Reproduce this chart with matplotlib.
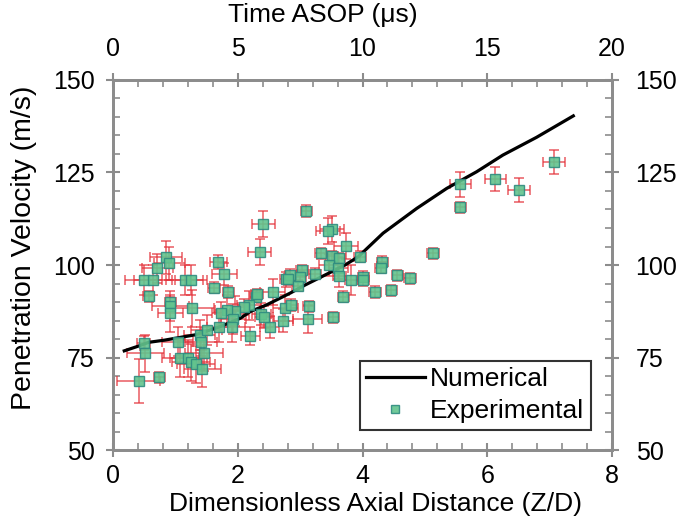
import matplotlib
matplotlib.use("Agg")
import matplotlib.pyplot as plt
from matplotlib.ticker import MultipleLocator

plt.rcParams['font.family'] = ['Liberation Sans', 'DejaVu Sans']

# Numerical curve
num_z = [0.18, 0.41, 0.57, 0.83, 1.10, 1.31, 1.55, 1.71, 2.04, 2.20, 2.46, 2.84,
         3.08, 3.40, 3.72, 3.93, 4.33, 4.87, 5.35, 5.83, 6.25, 6.79, 7.38]
num_v = [76.8, 78.1, 79.1, 79.7, 80.5, 81.1, 82.4, 83.3, 85.6, 87.4, 89.2, 92.4,
         94.6, 97.3, 100.0, 102.2, 108.6, 115.3, 120.7, 125.2, 129.7, 134.5, 140.3]

# Experimental points
exp_z = [0.85, 0.90, 0.71, 0.49, 0.64, 1.15, 1.25, 0.57, 0.92, 0.92, 0.92, 1.27,
         0.49, 0.52, 0.41, 0.74, 1.04, 1.08, 1.21, 1.25, 1.33, 1.43, 1.46, 1.39,
         1.41, 1.50,
         1.69, 1.78, 1.62, 1.85, 2.56, 2.29, 2.31, 2.78, 2.76, 2.73, 2.51, 2.20,
         2.38, 2.42, 2.18, 2.10, 1.96, 1.83, 1.73, 1.93, 1.91, 1.70, 2.41, 2.35,
         3.10, 3.51, 3.45, 3.73, 3.33, 3.51, 3.63, 3.96, 3.46, 3.61, 3.63, 3.82,
         4.01, 4.01, 3.24, 3.03, 3.00, 2.84, 2.80, 2.96, 3.69, 2.86, 3.14, 3.53,
         3.12,
         5.13, 4.32, 4.29, 4.56, 4.76, 4.20, 4.46, 5.57, 5.57, 6.13, 6.51, 7.07]
exp_v = [102.1, 100.5, 99.1, 95.9, 95.9, 95.9, 95.9, 91.5, 89.9, 89.0, 86.9, 88.3,
         78.9, 76.2, 68.7, 69.6, 79.3, 74.8, 74.8, 73.7, 73.2, 71.9, 76.3, 81.1,
         79.3, 82.4,
         100.8, 97.6, 93.8, 92.7, 92.7, 91.4, 92.1, 96.1, 88.3, 85.0, 83.2, 80.8,
         86.7, 85.9, 89.1, 88.7, 87.6, 87.8, 86.9, 85.4, 83.2, 83.3, 111.1, 103.5,
         114.6, 109.7, 109.2, 105.1, 103.2, 102.4, 101.8, 102.2, 100.1, 99.1, 97.0, 95.9,
         96.8, 95.9, 97.6, 98.6, 96.8, 97.3, 96.2, 94.4, 91.4, 89.2, 88.8, 85.9,
         85.3,
         103.2, 100.9, 99.3, 97.2, 96.4, 92.7, 93.2, 121.8, 115.6, 123.2, 120.2, 127.8]
exp_xerr = [0.25, 0.25, 0.25, 0.30, 0.30, 0.30, 0.25, 0.09, 0.09, 0.30, 0.20, 0.35,
            0.10, 0.30, 0.35, 0.09, 0.25, 0.30, 0.30, 0.30, 0.30, 0.30, 0.30, 0.25,
            0.25, 0.25,
            0.13, 0.20, 0.09, 0.09, 0.20, 0.09, 0.09, 0.10, 0.20, 0.15, 0.15, 0.15,
            0.15, 0.15, 0.20, 0.10, 0.20, 0.20, 0.15, 0.20, 0.20, 0.20, 0.18, 0.18,
            0.09, 0.19, 0.19, 0.19, 0.09, 0.09, 0.09, 0.09, 0.15, 0.15, 0.10, 0.10,
            0.09, 0.09, 0.09, 0.09, 0.09, 0.09, 0.09, 0.09, 0.09, 0.09, 0.09, 0.09,
            0.23,
            0.09, 0.09, 0.09, 0.09, 0.09, 0.09, 0.09, 0.17, 0.09, 0.17, 0.17, 0.17]
exp_yerr = [4.5, 4.5, 4.0, 4.0, 4.0, 4.0, 4.0, 1.5, 1.5, 4.0, 5.0, 5.0,
            2.0, 5.0, 6.0, 1.5, 4.0, 5.0, 5.0, 5.0, 5.0, 5.0, 5.0, 4.0,
            4.0, 4.0,
            2.0, 3.0, 1.5, 1.5, 3.5, 1.5, 1.5, 2.0, 3.5, 3.0, 3.0, 2.5,
            3.0, 3.0, 4.0, 2.0, 4.0, 4.0, 3.0, 4.0, 4.0, 4.0, 3.6, 3.6,
            1.5, 3.6, 3.6, 3.6, 1.5, 1.5, 1.5, 1.5, 3.0, 3.0, 3.0, 4.0,
            1.5, 1.5, 1.5, 1.5, 1.5, 1.5, 1.5, 1.5, 1.5, 1.5, 1.5, 1.5,
            3.8,
            1.5, 1.5, 1.5, 1.5, 1.5, 1.5, 1.5, 3.3, 1.5, 3.3, 3.3, 3.3]

x_ticks = [0, 2, 4, 6, 8]
y_ticks = [50, 75, 100, 125, 150]
t_ticks = [0, 5, 10, 15, 20]

spine_col = '#8c8c8c'
fs_tick = 18
fs_lab = 19

fig = plt.figure(figsize=(6.85, 5.28), dpi=100)
ax = fig.add_axes([0.165, 0.1477, 0.7284, 0.7008])

ax.errorbar(exp_z, exp_v, xerr=exp_xerr, yerr=exp_yerr, fmt='none',
            ecolor='#e4323b', elinewidth=1.1, capsize=3.8, capthick=1.1,
            alpha=0.8, zorder=2)
ax.plot(num_z, num_v, color='black', lw=2.3, zorder=3, label='Numerical')
ax.plot(exp_z, exp_v, linestyle='none', marker='s', markersize=7.2,
        markerfacecolor='#62c48e', markeredgecolor='#2f8c80',
        markeredgewidth=1.0, alpha=0.9, zorder=4, label='Experimental')

ax.set_xlim(0, 8)
ax.set_ylim(50, 150)
ax.set_xticks(x_ticks)
ax.set_yticks(y_ticks)
ax.xaxis.set_minor_locator(MultipleLocator(0.4))
ax.yaxis.set_minor_locator(MultipleLocator(5))
ax.set_xlabel('Dimensionless Axial Distance (Z/D)', fontsize=fs_lab,
              va='center', ha='center')
ax.xaxis.set_label_coords(0.527, -0.145)
ax.set_ylabel('Penetration Velocity (m/s)', fontsize=20.5,
              va='center', ha='center')
ax.yaxis.set_label_coords(-0.178, 0.546)

axr = ax.twinx()
axr.set_ylim(50, 150)
axr.set_yticks(y_ticks)
axr.yaxis.set_minor_locator(MultipleLocator(5))

axt = ax.twiny()
axt.set_xlim(0, 20)
axt.set_xticks(t_ticks)
axt.xaxis.set_minor_locator(MultipleLocator(1))
axt.set_xlabel('Time ASOP (\u03bcs)', fontsize=fs_lab, va='center', ha='center')
axt.xaxis.set_label_coords(0.421, 1.176)

for a in (ax, axr, axt):
    for s in a.spines.values():
        s.set_color(spine_col)
        s.set_linewidth(1.8)
    a.tick_params(which='major', direction='inout', length=10, width=1.5,
                  color=spine_col, labelsize=fs_tick, labelcolor='black')
    a.tick_params(which='minor', direction='in', length=5, width=1.2,
                  color=spine_col)
ax.tick_params(axis='x', which='both', top=False)
ax.tick_params(axis='y', which='both', right=False)
ax.tick_params(axis='x', which='major', pad=5)
axt.tick_params(axis='x', which='major', pad=9)
ax.tick_params(axis='y', which='major', pad=8)
axr.tick_params(axis='y', which='major', pad=12)

leg = ax.legend(loc='lower right', bbox_to_anchor=(0.957, 0.055), fontsize=fs_lab,
                frameon=True, fancybox=False, edgecolor='black',
                handlelength=2.2, handletextpad=0.2, borderpad=0.25,
                labelspacing=0.3, borderaxespad=0.0, markerscale=0.8)
leg.get_frame().set_linewidth(1.5)
leg.set_zorder(10)

fig.savefig('out.png', dpi=100)
